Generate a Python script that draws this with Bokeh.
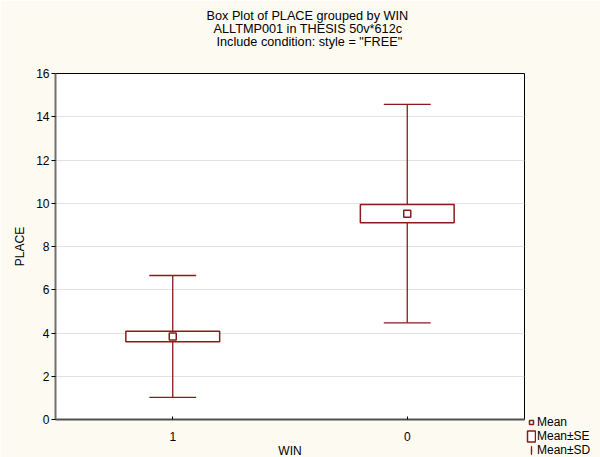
from bokeh.plotting import figure
from bokeh.models import (FactorRange, Range1d, Legend, LegendItem, Title,
                          ColumnDataSource, FixedTicker)
from bokeh.transform import dodge
from bokeh.embed import file_html
from bokeh.resources import INLINE

# ---- data ----
groups = ["1", "0"]
means = [3.84, 9.52]
se = [0.245, 0.42]
sd = [2.82, 5.05]
y_ticks = [0, 2, 4, 6, 8, 10, 12, 14, 16]
title_lines = ["Box Plot of PLACE grouped by  WIN",
               "ALLTMP001 in THESIS 50v*612c",
               'Include condition: style = "FREE"']
x_label = "WIN"
y_label = "PLACE"
legend_labels = ["Mean", "Mean\u00b1SE", "Mean\u00b1SD"]

RED = "#8B1A1A"
CREAM = "#FDFAF2"
FONT = "Liberation Sans"

src = ColumnDataSource(dict(
    win=groups,
    mean=means,
    se_lo=[m - s for m, s in zip(means, se)],
    se_hi=[m + s for m, s in zip(means, se)],
    sd_lo=[m - s for m, s in zip(means, sd)],
    sd_hi=[m + s for m, s in zip(means, sd)],
))

p = figure(frame_width=469, frame_height=346, x_range=FactorRange(*groups),
           y_range=Range1d(0, 16), output_backend="svg", toolbar_location=None,
           min_border_left=55, min_border_right=76, min_border_top=73,
           min_border_bottom=38, background_fill_color="white",
           border_fill_color=CREAM, outline_line_color="black",
           outline_line_width=1)
p.title.text = ""

# axes
p.xaxis.axis_label = x_label
p.yaxis.axis_label = y_label
for ax in (p.xaxis[0], p.yaxis[0]):
    ax.axis_label_text_font = FONT
    ax.axis_label_text_font_size = "12px"
    ax.axis_label_text_font_style = "normal"
    ax.axis_label_text_color = "black"
    ax.major_label_text_font = FONT
    ax.major_label_text_font_size = "12px"
    ax.major_label_text_color = "black"
    ax.minor_tick_line_color = None
    ax.major_tick_line_color = "black"
    ax.axis_line_width = 2

p.yaxis.ticker = FixedTicker(ticks=y_ticks)
p.yaxis.major_tick_out = 4
p.yaxis.major_tick_in = 0
p.yaxis.major_label_standoff = 2
p.yaxis.axis_label_standoff = 6
p.yaxis.axis_line_color = "#707070"

p.xaxis.major_tick_out = 0
p.xaxis.major_tick_in = 3
p.xaxis.major_label_standoff = 12
p.xaxis.axis_label_standoff = 0
p.xaxis.axis_line_color = "#505050"

p.xgrid.grid_line_color = None
p.ygrid.ticker = FixedTicker(ticks=y_ticks)
p.ygrid.grid_line_color = "#E2E2E2"
p.ygrid.grid_line_width = 1

# whiskers (mean +- SD)
p.segment(x0="win", y0="sd_lo", x1="win", y1="sd_hi", source=src,
          line_color=RED, line_width=1.3)
for col in ("sd_lo", "sd_hi"):
    p.segment(x0=dodge("win", -0.1, range=p.x_range), y0=col,
              x1=dodge("win", 0.1, range=p.x_range), y1=col, source=src,
              line_color=RED, line_width=1.3)

# legend-only helper for the SD entry: a very thin ellipse (drawn outside the
# visible x range) whose legend icon is a short vertical bar
sd_icon = p.ellipse(x=[-10.0], y=[8.0], width=0.001, height=1.0,
                    fill_color=None, line_color=RED, line_width=1.4)

# SE box
box = p.vbar(x="win", width=0.4, bottom="se_lo", top="se_hi", source=src,
             fill_color="white", line_color=RED, line_width=1.5)
# mean marker
mean_r = p.scatter(x="win", y="mean", source=src, marker="square", size=7,
                   fill_color="white", line_color=RED, line_width=1.5)

legend = Legend(items=[LegendItem(label=legend_labels[0], renderers=[mean_r]),
                       LegendItem(label=legend_labels[1], renderers=[box]),
                       LegendItem(label=legend_labels[2], renderers=[sd_icon])],
                location=(2, -38), orientation="vertical",
                label_text_font=FONT, label_text_font_size="12px",
                label_text_color="black",
                glyph_width=10, glyph_height=14, label_height=14,
                label_standoff=1, spacing=0, padding=0, margin=0,
                background_fill_alpha=0, border_line_alpha=0)
p.add_layout(legend, "right")

# three-line title in the top margin (first added = nearest the frame)
p.add_layout(Title(text=" ", text_font_size="1px", standoff=23), "above")
for line, off in zip(reversed(title_lines), [161, 158, 151]):
    p.add_layout(Title(text=line, align="left", offset=off, standoff=-3,
                       vertical_align="bottom", text_font=FONT,
                       text_font_size="12.7px", text_font_style="normal",
                       text_color="black"), "above")

html = file_html(p, INLINE)
html = html.replace("<body>", '<body style="margin:0;background:%s;overflow:hidden">' % CREAM, 1)
open("out.html", "w").write(html)
